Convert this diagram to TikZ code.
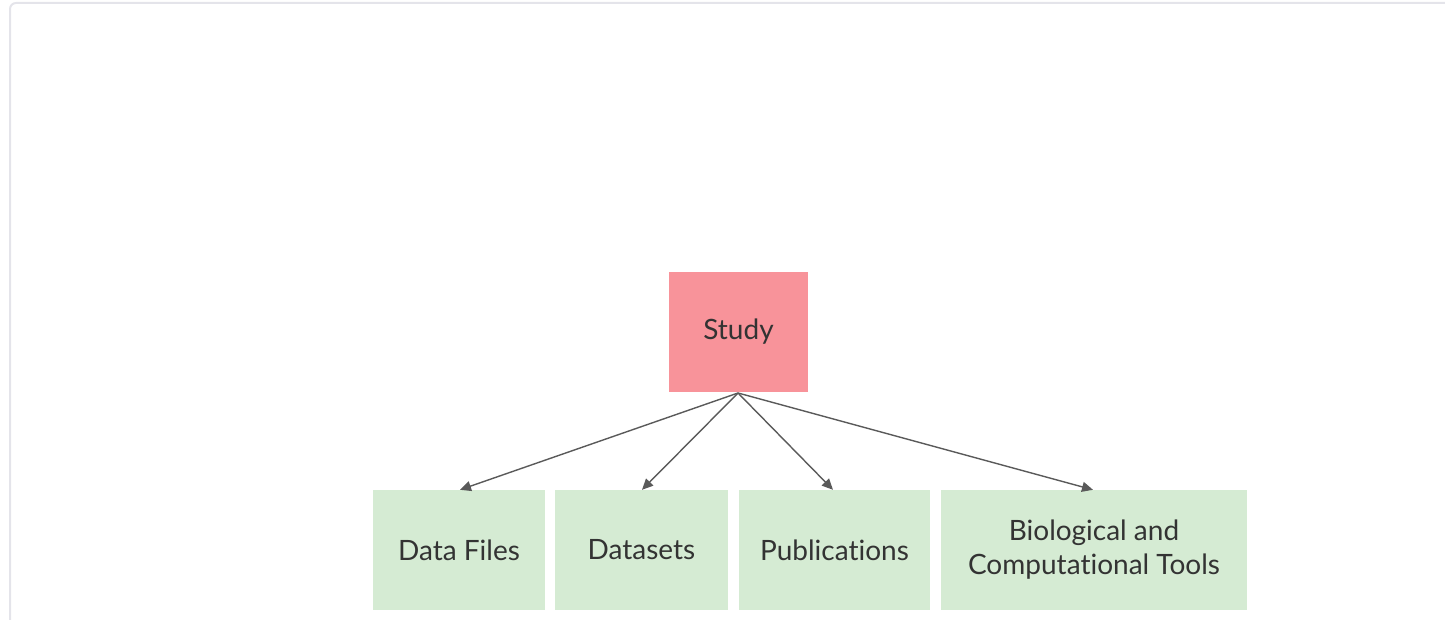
\documentclass[tikz,border=0pt]{standalone}
\usepackage{fontspec}
\setmainfont{Lato}[Ligatures=NoCommon]
\usetikzlibrary{arrows.meta}
\definecolor{studyred}{HTML}{F8939A}
\definecolor{leafgreen}{HTML}{D5EBD3}
\definecolor{arrowgray}{HTML}{5A5A5A}
\definecolor{framegray}{HTML}{E4E4EA}
\definecolor{textdark}{HTML}{333333}
\begin{document}
\begin{tikzpicture}[x=1pt,y=-1pt,
  box/.style={draw=none,minimum height=120pt,inner sep=0pt,font=\fontsize{28}{34}\selectfont,text=textdark,align=center},
  conn/.style={draw=arrowgray,line width=1.4pt,-{Triangle[length=11pt,width=10pt]}}]
\useasboundingbox (0,0) rectangle (1445,620);
\draw[framegray,line width=2pt,rounded corners=6pt] (10,620) -- (10,3) -- (1445,3);
\node[box,fill=studyred,minimum width=139pt] (study) at (738.5,332) {Study};
\node[box,fill=leafgreen,minimum width=172pt] (files) at (459,550) {Data Files};
\node[box,fill=leafgreen,minimum width=173pt] (sets) at (641.5,550) {Datasets};
\node[box,fill=leafgreen,minimum width=191pt] (pubs) at (834.5,550) {Publications};
\node[box,fill=leafgreen,minimum width=306pt] (tools) at (1094,550) {Biological and\\Computational Tools};
\coordinate (src) at (738,393);
\draw[conn] (src) -- (files.north -| 460,0);
\draw[conn] (src) -- (sets.north -| 642,0);
\draw[conn] (src) -- (pubs.north -| 833,0);
\draw[conn] (src) -- (tools.north -| 1093,0);
\end{tikzpicture}
\end{document}
